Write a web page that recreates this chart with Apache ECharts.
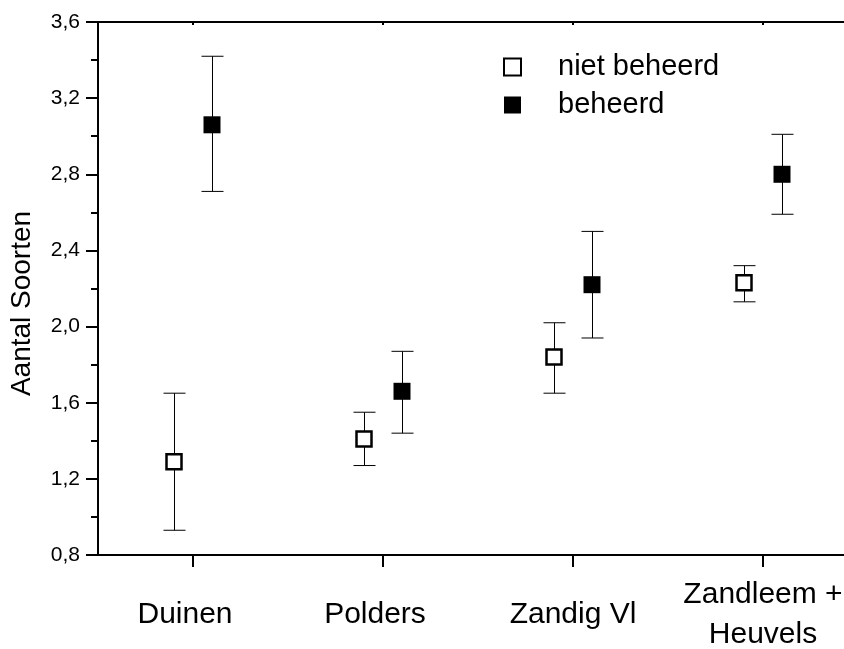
<!DOCTYPE html>
<html>
<head>
<meta charset="utf-8">
<script src="https://cdn.jsdelivr.net/npm/echarts@6/dist/echarts.min.js"></script>
<style>
html,body{margin:0;padding:0;background:#fff;}
#chart{width:844px;height:649px;}
</style>
</head>
<body>
<div id="chart"></div>
<script>
var categories = ['Duinen', 'Polders', 'Zandig Vl', 'Zandleem +\nHeuvels'];
var yTicks = [0.8, 1.2, 1.6, 2.0, 2.4, 2.8, 3.2, 3.6];
var nietMean = [1.29, 1.41, 1.84, 2.23];
var nietLow  = [0.93, 1.27, 1.65, 2.13];
var nietHigh = [1.65, 1.55, 2.02, 2.32];
var behMean  = [3.06, 1.66, 2.22, 2.80];
var behLow   = [2.71, 1.44, 1.94, 2.59];
var behHigh  = [3.42, 1.87, 2.50, 3.01];

var FONT = '"Liberation Sans", Arial, sans-serif';
var chart = echarts.init(document.getElementById('chart'), null, {renderer: 'canvas'});

function errData(low, high) {
  return categories.map(function (c, i) { return [i, low[i], high[i]]; });
}
function errRender(offset) {
  return function (params, api) {
    var lo = api.coord([api.value(0), api.value(1)]);
    var hi = api.coord([api.value(0), api.value(2)]);
    var x = Math.round(lo[0] + offset) + 0.5;
    var cap = 11;
    var st = {stroke: '#000', lineWidth: 1};
    return {
      type: 'group',
      children: [
        {type: 'line', shape: {x1: x, y1: hi[1], x2: x, y2: lo[1]}, style: st},
        {type: 'line', shape: {x1: x - cap, y1: hi[1], x2: x + cap, y2: hi[1]}, style: st},
        {type: 'line', shape: {x1: x - cap, y1: lo[1], x2: x + cap, y2: lo[1]}, style: st}
      ]
    };
  };
}

var OFF = 19;
var labelBase = {fontFamily: FONT, fontSize: 30, color: '#000', lineHeight: 40, verticalAlign: 'middle'};
var option = {
  backgroundColor: '#fff',
  animation: false,
  textStyle: {fontFamily: FONT, color: '#000'},
  grid: {left: 98, right: -14, top: 22, bottom: 94, containLabel: false, outerBoundsMode: 'none'},
  legend: {
    orient: 'vertical',
    left: 498,
    top: 47,
    itemWidth: 17,
    itemHeight: 17,
    itemGap: 8,
    selectedMode: false,
    textStyle: {fontFamily: FONT, fontSize: 29, color: '#000', lineHeight: 30, padding: [0, 0, 0, 32]},
    data: [
      {name: 'niet beheerd', icon: 'rect'},
      {name: 'beheerd', icon: 'rect'}
    ]
  },
  xAxis: [{
    type: 'category',
    data: categories.map(function (c, i) {
      return {value: c, textStyle: Object.assign({}, labelBase, {padding: i < 2 ? [0, 16, 0, 0] : [0, 0, 0, 0]})};
    }),
    boundaryGap: true,
    position: 'bottom',
    axisLine: {show: true, lineStyle: {color: '#000', width: 2}},
    axisTick: {show: true, alignWithLabel: true, interval: 0, length: 12, inside: false, lineStyle: {color: '#000', width: 2}},
    axisLabel: Object.assign({show: true, margin: 60, interval: 0}, labelBase),
    splitLine: {show: false}
  }, {
    type: 'category',
    data: categories,
    boundaryGap: true,
    position: 'top',
    axisLine: {show: true, lineStyle: {color: '#000', width: 2}},
    axisTick: {show: true, alignWithLabel: true, interval: 0, length: 3, inside: true, lineStyle: {color: '#000', width: 2}},
    axisLabel: {show: false},
    splitLine: {show: false}
  }],
  yAxis: {
    type: 'value',
    min: 0.8,
    max: 3.6,
    interval: 0.4,
    name: 'Aantal Soorten',
    nameLocation: 'middle',
    nameRotate: 90,
    nameGap: 62,
    nameTextStyle: {fontFamily: FONT, fontSize: 28, color: '#000', padding: [0, 30, 0, 0]},
    axisLine: {show: true, lineStyle: {color: '#000', width: 2}},
    axisTick: {show: true, length: 12, lineStyle: {color: '#000', width: 2}},
    minorTick: {show: true, splitNumber: 2, length: 7, lineStyle: {color: '#000', width: 2}},
    axisLabel: {fontFamily: FONT, fontSize: 21, color: '#000', margin: 18,
      formatter: function (v) { return v.toFixed(1).replace('.', ','); }},
    splitLine: {show: false},
    minorSplitLine: {show: false}
  },
  series: [
    {type: 'custom', name: 'err1', renderItem: errRender(-OFF), data: errData(nietLow, nietHigh), z: 1, silent: true},
    {type: 'custom', name: 'err2', renderItem: errRender(OFF), data: errData(behLow, behHigh), z: 1, silent: true},
    {
      type: 'scatter', name: 'niet beheerd', symbol: 'rect', symbolSize: 15,
      symbolOffset: [-OFF, 0],
      itemStyle: {color: '#fff', borderColor: '#000', borderWidth: 2.5, opacity: 1},
      data: nietMean, z: 5
    },
    {
      type: 'scatter', name: 'beheerd', symbol: 'rect', symbolSize: 17,
      symbolOffset: [OFF, 0],
      itemStyle: {color: '#000', borderWidth: 0, opacity: 1},
      data: behMean, z: 5
    }
  ]
};
chart.setOption(option);
</script>
</body>
</html>
